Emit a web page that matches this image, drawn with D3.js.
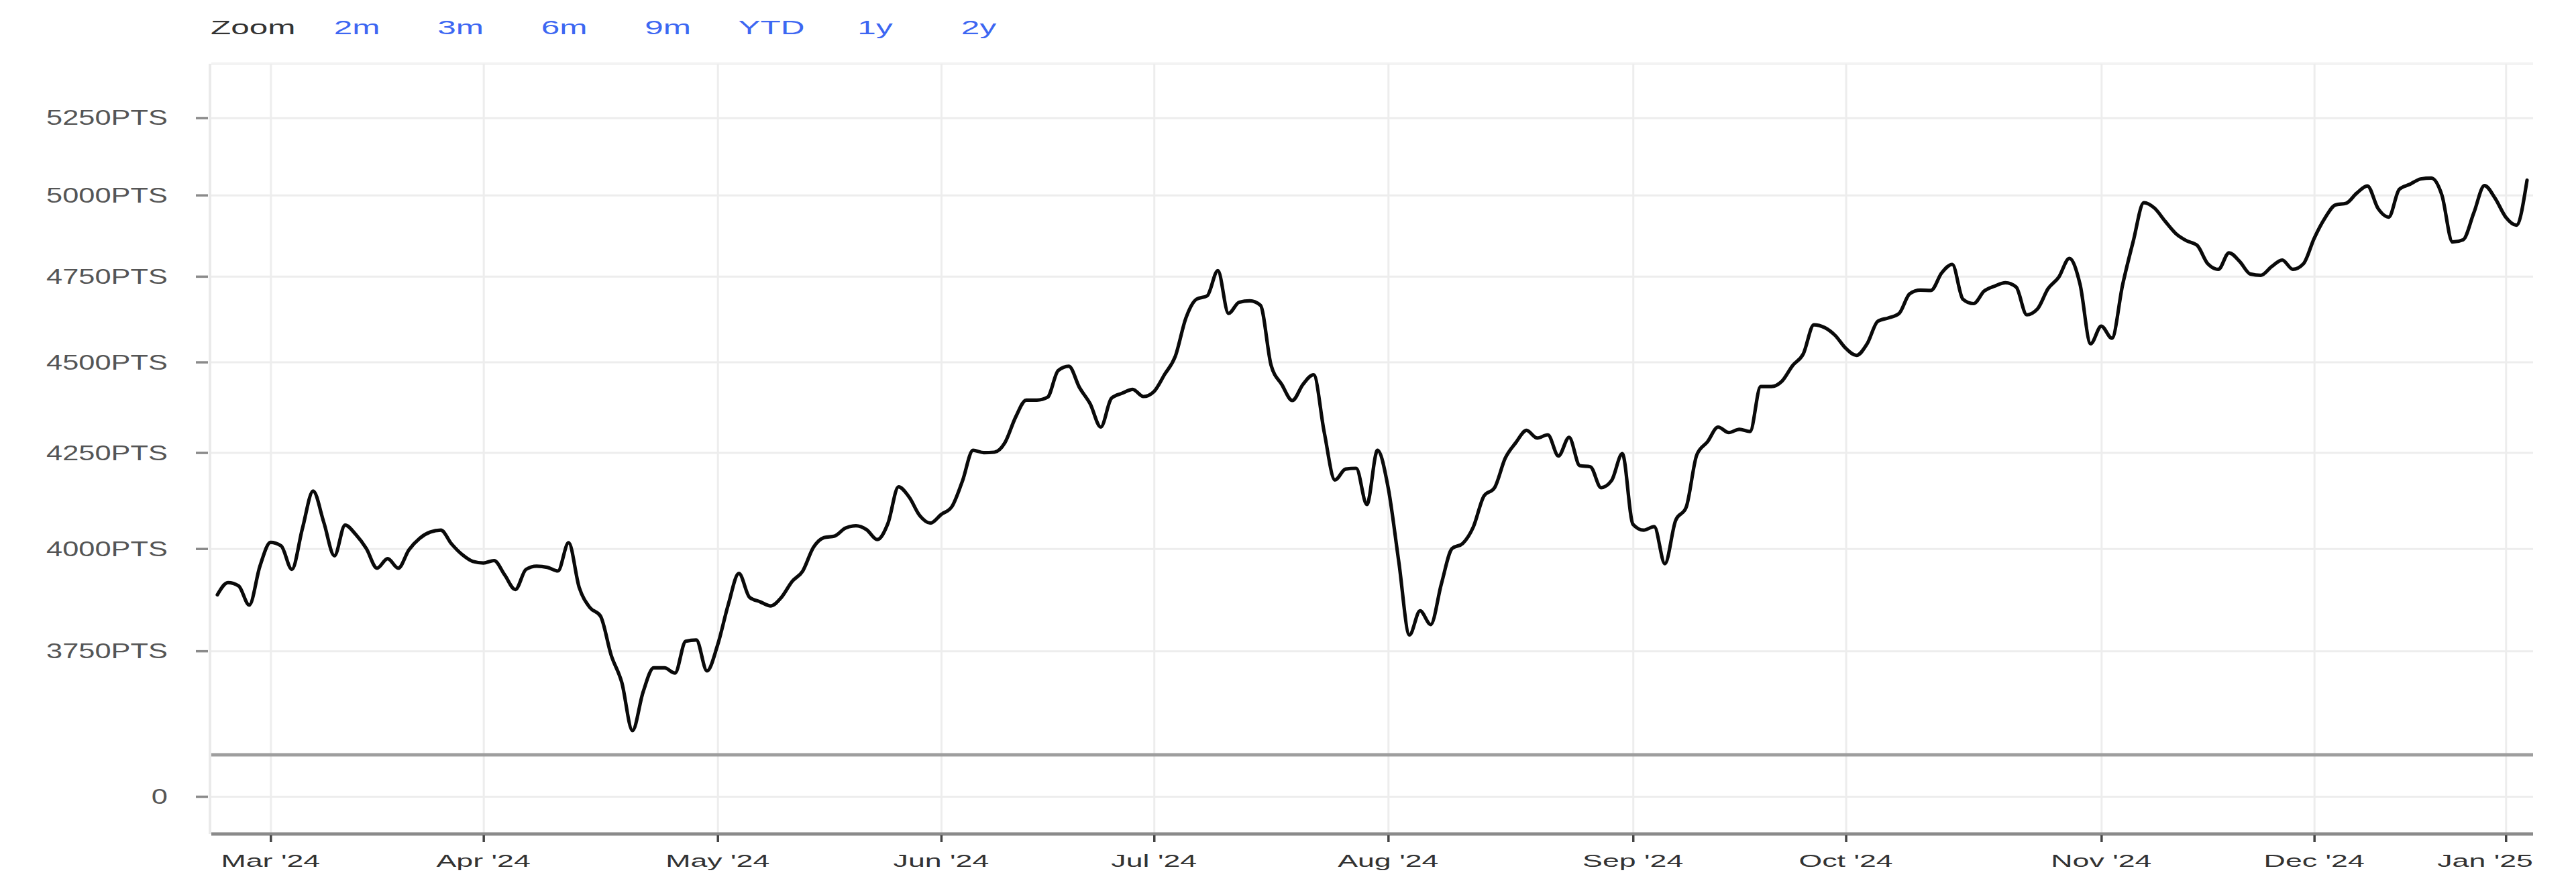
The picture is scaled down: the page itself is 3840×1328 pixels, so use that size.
<!DOCTYPE html>
<html><head><meta charset="utf-8">
<script src="https://cdn.jsdelivr.net/npm/d3@7"></script>
<style>
html,body{margin:0;padding:0;background:#fff;}
svg{display:block;font-family:"Liberation Sans",Arial,Helvetica,sans-serif;}
</style>
</head><body>
<svg id="chart" width="3840" height="1328"></svg>
<script>
// ---- data (one value per trading session) ----
const values = [
3885,3915,3907,3860,3956,4016,4007,3948,4052,4148,
4067,3982,4060,4036,4000,3951,3975,3951,3997,4026,
4042,4047,4012,3985,3968,3964,3970,3934,3898,3948,
3956,3953,3944,4015,3903,3854,3833,3740,3676,3566,
3654,3710,3710,3698,3773,3776,3703,3764,3861,3938,
3879,3868,3858,3879,3918,3944,4003,4028,4032,4052,
4058,4048,4023,4064,4159,4132,4084,4065,4087,4107,
4174,4256,4250,4251,4277,4346,4393,4393,4401,4476,
4488,4428,4383,4319,4398,4412,4423,4403,4417,4465,
4516,4627,4682,4692,4767,4640,4673,4677,4664,4491,
4437,4392,4437,4464,4304,4177,4206,4208,4113,4256,
4157,3967,3788,3846,3813,3912,4000,4013,4055,4135,
4157,4235,4277,4310,4289,4298,4241,4291,4215,4212,
4157,4176,4247,4062,4047,4056,3962,4071,4106,4244,
4279,4319,4304,4313,4307,4431,4431,4446,4490,4523,
4607,4599,4576,4539,4519,4552,4617,4627,4640,4698,
4709,4708,4760,4786,4682,4669,4706,4721,4731,4718,
4636,4653,4713,4747,4804,4727,4552,4603,4568,4724,
4856,4976,4959,4918,4880,4858,4844,4788,4771,4821,
4795,4757,4753,4779,4799,4771,4788,4865,4927,4969,
4974,5006,5029,4958,4931,5018,5034,5051,5054,5000,
4854,4861,4944,5030,4990,4931,4906,5047
];
const monthLabels = ["Feb '24","Mar '24","Apr '24","May '24","Jun '24","Jul '24","Aug '24","Sep '24","Oct '24","Nov '24","Dec '24","Jan '25"];
const sessionsPerMonth = [5,20,22,21,20,22,23,20,24,20,18,3];
const yTickValues = [3750,4000,4250,4500,4750,5000,5250];
const lowerTickValues = [0];
const rangeButtons = ["2m","3m","6m","9m","YTD","1y","2y"];
const zoomLabel = "Zoom";

// ---- layout ----
const W = 3840, H = 1328;
const plot = {left:315, right:3776, top:95, sep:1125, axis:1243};
const svg = d3.select("#chart");
svg.append("rect").attr("width",W).attr("height",H).attr("fill","#fff");

const x = d3.scaleLinear().domain([0, values.length-1]).range([324, 3767]);
const y = d3.scaleLog().domain([3512, 5432]).range([plot.sep, plot.top]);
const yLow = d3.scaleLinear().domain([-1, 1]).range([plot.axis, 1131]);

// month start indices
const monthStarts = [];
let acc = 0;
sessionsPerMonth.forEach((n,i)=>{ monthStarts.push({label:monthLabels[i], idx:acc}); acc += n; });
const monthTicks = monthStarts.slice(1);

const gridColor = "#ededed";

// plot border (left + top, faint)
svg.append("line").attr("x1",plot.left-2).attr("x2",plot.left-2).attr("y1",plot.top).attr("y2",plot.axis)
  .attr("stroke","#eaeaea").attr("stroke-width",4);
svg.append("line").attr("x1",plot.left).attr("x2",plot.right).attr("y1",plot.top).attr("y2",plot.top)
  .attr("stroke","#f3f3f3").attr("stroke-width",4);

// vertical grid lines via axis
const xAxisGrid = d3.axisBottom(x).tickValues(monthTicks.map(d=>d.idx)).tickSize(-(plot.axis-plot.top)).tickFormat("");
const gx = svg.append("g").attr("transform",`translate(0,${plot.axis})`).call(xAxisGrid);
gx.select(".domain").remove();
gx.selectAll("line").attr("stroke",gridColor).attr("stroke-width",3);

// horizontal grid lines (log panel)
const yGrid = d3.axisLeft(y).tickValues(yTickValues).tickSize(-(plot.right-plot.left)).tickFormat("");
const gyg = svg.append("g").attr("transform",`translate(${plot.left},0)`).call(yGrid);
gyg.select(".domain").remove();
gyg.selectAll("line").attr("stroke",gridColor).attr("stroke-width",3);

// lower panel grid
const yLowGrid = d3.axisLeft(yLow).tickValues(lowerTickValues).tickSize(-(plot.right-plot.left)).tickFormat("");
const glg = svg.append("g").attr("transform",`translate(${plot.left},0)`).call(yLowGrid);
glg.select(".domain").remove();
glg.selectAll("line").attr("stroke",gridColor).attr("stroke-width",3);

// separator line and x-axis line
svg.append("line").attr("x1",plot.left).attr("x2",plot.right).attr("y1",plot.sep).attr("y2",plot.sep)
  .attr("stroke","#9e9e9e").attr("stroke-width",5);
svg.append("line").attr("x1",plot.left).attr("x2",plot.right).attr("y1",plot.axis).attr("y2",plot.axis)
  .attr("stroke","#8a8a8a").attr("stroke-width",5);

// y tick marks
function yTickMarks(scale, vals){
  const ax = d3.axisLeft(scale).tickValues(vals).tickSize(18).tickFormat("");
  const g = svg.append("g").attr("transform",`translate(${plot.left-5},0)`).call(ax);
  g.select(".domain").remove();
  g.selectAll("line").attr("stroke","#8a8a8a").attr("stroke-width",3.5);
}
yTickMarks(y, yTickValues);
yTickMarks(yLow, lowerTickValues);

// y labels (stretched horizontally like the reference)
const yLabelX = 250, ySx = 1.4;
const fmt = v => v === 0 ? "0" : d3.format("d")(v) + "PTS";
svg.append("g").selectAll("text").data(yTickValues).join("text")
  .attr("transform", d=>`translate(${yLabelX},${y(d)+11}) scale(${ySx},1)`)
  .attr("text-anchor","end").attr("font-size",31).attr("fill","#555")
  .text(fmt);
svg.append("g").selectAll("text").data(lowerTickValues).join("text")
  .attr("transform", d=>`translate(${yLabelX},${yLow(d)+11}) scale(${ySx},1)`)
  .attr("text-anchor","end").attr("font-size",31).attr("fill","#555")
  .text(fmt);

// x tick marks and labels
const xAx = d3.axisBottom(x).tickValues(monthTicks.map(d=>d.idx)).tickSize(10).tickFormat("");
const gxa = svg.append("g").attr("transform",`translate(0,${plot.axis+2})`).call(xAx);
gxa.select(".domain").remove();
gxa.selectAll("line").attr("stroke","#444").attr("stroke-width",3.5);
const xSx = 1.72;
svg.append("g").selectAll("text").data(monthTicks).join("text")
  .attr("text-anchor","middle").attr("font-size",26).attr("fill","#333")
  .text(d=>d.label)
  .each(function(d){
    const half = this.getComputedTextLength()*xSx/2;
    const cx = Math.min(x(d.idx), plot.right - half);
    d3.select(this).attr("transform",`translate(${cx},1292) scale(${xSx},1)`);
  });

// price line
const line = d3.line().x((d,i)=>x(i)).y(d=>y(d)).curve(d3.curveMonotoneX);
svg.append("path").datum(values).attr("d",line)
  .attr("fill","none").attr("stroke","#0a0a0a").attr("stroke-width",5.2)
  .attr("stroke-linejoin","round").attr("stroke-linecap","round");

// range selector
const zSx = 1.65;
svg.append("text").attr("transform",`translate(314,51) scale(${zSx},1)`)
  .attr("font-size",30).attr("fill","#333").text(zoomLabel);
const btnX = d3.scalePoint().domain(rangeButtons).range([532, 1459]);
svg.append("g").selectAll("text").data(rangeButtons).join("text")
  .attr("transform", d=>`translate(${btnX(d)},51) scale(${zSx},1)`)
  .attr("text-anchor","middle").attr("font-size",30).attr("fill","#3d67f2")
  .text(d=>d);
</script>
</body></html>
